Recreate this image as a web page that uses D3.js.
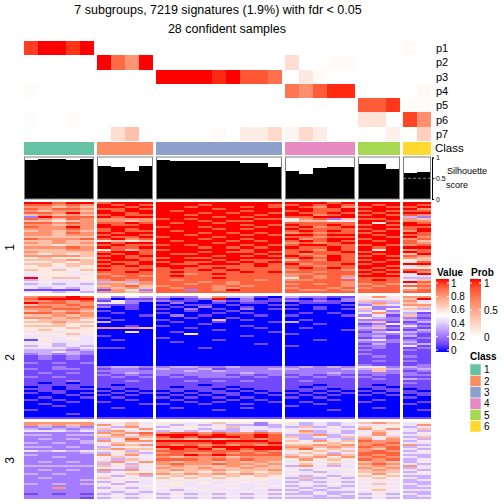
<!DOCTYPE html>
<html><head><meta charset="utf-8">
<script src="https://cdn.jsdelivr.net/npm/d3@7/dist/d3.min.js"></script>
<style>body{margin:0;background:#fff;}svg text{font-family:"Liberation Sans",Arial,Helvetica,sans-serif;}</style>
</head><body><div id="chart"></div>
<script>
// ---------- data ----------
const titleLines = ["7 subgroups, 7219 signatures (1.9%) with fdr < 0.05", "28 confident samples"];
const classes = [1,1,1,1,1, 2,2,2,2, 3,3,3,3,3,3,3,3,3, 4,4,4,4,4, 5,5,5, 6,6];
const classColors = ["#66C2A5","#FC8D62","#8DA0CB","#E78AC3","#A6D854","#FFD92F"];
const probNames = ["p1","p2","p3","p4","p5","p6","p7"];
const p1 = [0.9,1,1,0.93,1, 0,0,0,0, 0,0,0,0,0,0,0,0,0, 0,0,0,0,0, 0,0,0, 0.03,0];
const p2 = [0,0,0,0,0, 1,0.75,0.55,1, 0,0,0,0,0,0,0,0,0, 0.18,0,0,0.03,0.03, 0,0,0, 0,0];
const p3 = [0,0,0,0,0, 0,0,0,0, 1,1,1,1,0.95,1,0.82,0.82,0.72, 0,0.12,0.03,0,0, 0,0,0, 0,0];
const p4 = [0.02,0,0,0,0, 0,0,0,0, 0,0,0,0,0,0,0,0,0, 0.7,0.58,0.8,0.95,0.95, 0,0,0, 0,0.04];
const p5 = [0,0,0,0,0, 0,0,0,0, 0,0,0,0,0,0,0,0,0, 0,0,0,0,0, 0.8,0.8,0.92, 0.02,0.02];
const p6 = [0.02,0,0,0.02,0, 0,0,0,0, 0,0,0,0,0,0,0,0,0, 0,0,0,0,0, 0.15,0.15,0, 0.88,0.58];
const p7 = [0,0,0,0,0, 0,0.18,0.33,0, 0,0,0,0,0.03,0,0.1,0.1,0.2, 0.06,0.2,0.1,0,0, 0,0,0.08, 0,0.25];
const silhouette = [0.94,0.96,0.96,0.94,0.96, 0.8,0.77,0.67,0.8, 0.93,0.92,0.92,0.92,0.92,0.92,0.87,0.87,0.78, 0.68,0.6,0.75,0.78,0.78, 0.85,0.85,0.72, 0.63,0.65];
const sliceLabels = ["1","2","3"];
// each row: 28 digits (value = digit/9), groups separated by spaces
const slice1 = [
"99899 8999 999999999 99989 999 99","88787 9898 999899998 89898 989 98","77676 9989 998999898 98797 898 89",
"87887 8898 999989999 99889 999 97","76776 9899 989999899 89889 898 88","88797 9989 999898998 98898 989 99",
"67676 8988 998999989 99789 898 87","29888 9899 999989899 88999 999 32","87687 7777 898999988 57826 889 76",
"66567 7767 999898899 56654 998 77","88787 8898 989989999 88888 959 98","77677 9889 999999898 98898 898 99",
"87797 9999 899899989 89789 999 88","77787 8989 999989899 98888 898 89","67676 8988 989999999 89898 989 79",
"77687 9899 999898989 78788 899 98","77677 8998 998999898 99899 989 88","66666 9889 899989999 88788 998 97",
"87778 8978 999899899 97899 899 78","66766 5656 989998989 89898 989 86","76767 9899 999989999 78789 999 87",
"66566 8988 898999898 89988 898 78","77787 9889 999898989 98898 989 99","66677 5868 899999899 88798 959 78",
"76666 8998 999898898 89889 899 98","65656 9898 988999989 87888 989 69","77776 8989 999989898 98798 898 87",
"56555 9988 898899999 89898 999 76","66676 8998 999989888 68798 898 56","55656 9889 898898989 88888 989 58",
"66566 8989 988999898 97889 899 99","56565 9898 999888898 88788 998 56","55455 8888 898898888 89898 989 45",
"65656 9889 888989888 78887 898 88","55545 8898 898888989 88788 989 97","45554 7888 887898888 77888 898 59",
"45545 8787 898888888 78787 999 44","95665 8888 888898888 58783 888 33","34445 7878 878888878 77888 898 56",
"45444 3637 888787888 88887 888 98","34343 7767 887887888 78787 787 47","44444 6786 788878788 88887 878 88",
"43434 7676 878877888 78878 788 57","11114 1752 882879888 87787 888 78","44343 7767 888888888 88888 888 88"];
const slice2 = [
"78898 5243 322573310 32211 575 77","89999 2011 101290201 10102 454 69","77878 1522 211021211 21212 636 74",
"98877 4420 020010110 01110 373 65","67787 1110 101101001 10001 264 77","88778 2010 010200100 00100 422 56",
"77887 0010 102010201 10101 625 63","67676 1000 001001000 00000 352 45","88787 0100 100010100 01010 473 31",
"66767 0001 020100010 10001 241 62","77676 1000 001001000 00000 532 21","56665 0100 100060100 01000 222 32",
"66766 3000 010010001 30000 361 13","55655 0000 000100000 00100 125 21","66656 0010 100000100 00000 231 42",
"55565 7776 001000010 01000 362 21","56555 0000 000010000 00001 221 13","45455 0040 010000001 00000 134 32",
"55565 0000 005000000 10000 222 21","44544 1000 000000100 00000 231 31","45454 0000 100000000 00000 121 12",
"15454 0100 000010000 00100 342 21","44444 0000 010000000 00000 222 31","45344 0000 000000010 00000 131 23",
"34343 0000 000000000 10000 221 41","44434 1100 000100000 00000 121 12","33323 0000 000000000 00000 211 21",
"33432 0000 000000000 00000 111 11","23232 0000 000000000 00000 211 11","12121 0000 000000000 00000 121 21",
"12121 0000 000000000 00000 111 11","11111 0000 000000000 00000 121 21","21212 0000 000000000 00000 111 11",
"11111 0000 000000000 00000 211 12",
"11211 2332 233223222 23232 442 32","21221 1221 322312223 32223 363 23","11111 2222 223232222 22222 262 12",
"12121 1232 222222322 22232 222 21","11111 2121 212221212 12121 121 22","21211 1212 121222121 21212 211 11",
"11111 1111 111111111 11111 121 32","11121 1121 112121211 12111 111 11","10101 1111 111111111 11111 111 21",
"11111 1011 111011111 11011 101 11","01010 1111 101110111 10111 110 11","11011 0101 111101011 11101 011 01",
"01100 1010 010110101 01010 101 10","10101 0101 101011010 10101 010 11","00010 1010 010101001 01010 101 01",
"01001 0100 101010100 10100 000 10","10100 0010 010001010 00010 010 00","00010 1000 001010001 01000 100 01",
"01000 0001 100100100 00100 000 10","00100 0000 000000000 10000 000 00","00000 0100 010000100 00000 010 00",
"10000 0000 000010000 00010 000 01","00000 0000 000000000 00000 000 00","00010 0000 000000000 00000 000 00",
"00000 0000 000000000 00000 000 00","11111 1111 111111111 11111 111 11"];
const slice3 = [
"77777 4564 554565525 53434 676 45","76767 7565 434343323 43434 445 47","23232 4374 355456443 36353 655 34",
"32323 6557 545343444 44444 757 46","44434 3744 343433434 57353 464 43","22222 7678 788787787 46343 575 35",
"33233 5747 999898898 33734 474 44","22222 6666 898999898 63536 656 36","23232 3485 776767878 43343 747 43",
"22223 7577 999999998 65756 877 35","32323 4654 888898889 55565 778 44","22222 5767 878787878 66767 787 73",
"33232 3454 999899999 77676 878 34","22222 6766 798979899 68564 768 43","43434 4535 888888787 55656 787 35",
"22223 3563 787787878 46534 888 44","32222 7474 889898888 65676 878 33","22322 5645 767776777 76757 787 43",
"22222 4364 888787877 57565 878 34","23232 6757 767767676 45454 676 35","22222 3535 787787767 56565 787 43",
"33333 6464 676667676 37434 676 74","22222 4535 766766766 45454 767 34","23232 7374 676676667 53545 676 43",
"22222 3555 656565656 44344 666 35","32322 5467 767676766 54545 575 44","22222 4353 565656565 43434 656 33",
"23222 6545 656565555 36353 565 43","22223 4454 545455454 43444 454 34","22222 3534 454544544 34343 545 33",
"32323 5354 554545454 45454 464 43","22222 4545 454454445 34343 545 34","22722 3434 545445454 43434 454 33",
"22222 5454 434544443 34344 565 44","22222 4343 454454545 43433 454 33","12121 3434 343434343 33434 343 43",
"22222 4545 454545454 44343 454 34","22221 3434 343434343 33333 343 33"];
const valueTicks = [1,0.8,0.6,0.4,0.2,0];
const probTicks = [1,0.5,0];
const silTicks = [1,0.5,0];

// ---------- layout ----------
const W = 504, H = 504;
const svg = d3.select("#chart").append("svg").attr("width",W).attr("height",H);
const groupRanges = [[24,94],[97,153],[156,282],[285,355],[358,400],[403,431]];
const idx = d3.range(classes.length);
const groupIdx = [1,2,3,4,5,6].map(g => idx.filter(i => classes[i]===g));
const xScales = groupIdx.map((ids,k) => d3.scaleBand().domain(ids).range(groupRanges[k]));
const xOf = i => xScales[classes[i]-1](i);
const bw = i => xScales[classes[i]-1].bandwidth();

const valColor = d3.scaleLinear().domain([0,0.5,1]).range(["#0000FF","#FFFFFF","#FF0000"]).interpolate(d3.interpolateLab);
const probColor = d3.scaleLinear().domain([0,1]).range(["#FFFFFF","#FF0000"]).interpolate(d3.interpolateLab);

// title
svg.append("text").attr("x",218).attr("y",14).attr("text-anchor","middle").attr("font-size",12.5).text(titleLines[0]);
svg.append("text").attr("x",227).attr("y",33).attr("text-anchor","middle").attr("font-size",12.5).text(titleLines[1]);

// prob rows
const probs = [p1,p2,p3,p4,p5,p6,p7];
const yProb = d3.scaleBand().domain(probNames).range([41,141]);
probs.forEach((arr,r) => {
  svg.append("g").selectAll("rect").data(arr).join("rect")
    .attr("x",(d,i)=>xOf(i)).attr("width",(d,i)=>bw(i)+0.3)
    .attr("y",yProb(probNames[r])).attr("height",yProb.bandwidth()+0.3)
    .attr("fill",d=>probColor(d)).attr("shape-rendering","crispEdges");
  svg.append("text").attr("x",436).attr("y",yProb(probNames[r])+yProb.bandwidth()/2+4)
    .attr("font-size",11).text(probNames[r]);
});
// class bar
svg.append("g").selectAll("rect").data(classes).join("rect")
  .attr("x",(d,i)=>xOf(i)).attr("width",(d,i)=>bw(i)+0.3)
  .attr("y",142).attr("height",13).attr("fill",d=>classColors[d-1]).attr("shape-rendering","crispEdges");
svg.append("text").attr("x",435).attr("y",152).attr("font-size",11.5).text("Class");

// silhouette
const ySil = d3.scaleLinear().domain([0,1]).range([199,157.5]);
svg.append("g").selectAll("rect").data(silhouette).join("rect")
  .attr("x",(d,i)=>xOf(i)).attr("width",(d,i)=>bw(i)+0.3)
  .attr("y",d=>ySil(d)).attr("height",d=>ySil(0)-ySil(d)).attr("fill","#000").attr("shape-rendering","crispEdges");
groupRanges.forEach(r => {
  svg.append("rect").attr("x",r[0]+0.5).attr("y",157).attr("width",r[1]-r[0]-1).attr("height",42)
    .attr("fill","none").attr("stroke","#808080").attr("stroke-width",1);
});
svg.append("line").attr("x1",403).attr("x2",438).attr("y1",ySil(0.5)).attr("y2",ySil(0.5))
  .attr("stroke","#888").attr("stroke-dasharray","3,2");
const silAxis = svg.append("g").attr("transform","translate(432,0)")
  .call(d3.axisRight(ySil).tickValues(silTicks).tickSize(2).tickFormat(d3.format("")));
silAxis.selectAll("text").attr("font-size",7).attr("x",4).attr("font-family","Liberation Sans, Arial, sans-serif");
silAxis.select(".domain").attr("stroke","#000");
svg.append("text").attr("x",447).attr("y",174).attr("font-size",9).text("Silhouette");
svg.append("text").attr("x",446).attr("y",188).attr("font-size",9).text("score");

// heatmap slices
const slices = [slice1,slice2,slice3];
const sliceRanges = [[202,293],[296,419],[422,499]];
slices.forEach((rows,s) => {
  const parsed = rows.map(r => r.replace(/ /g,"").split("").map(c => +c/9));
  const yS = d3.scaleBand().domain(d3.range(parsed.length)).range(sliceRanges[s]);
  const g = svg.append("g");
  parsed.forEach((row,ri) => {
    g.append("g").selectAll("rect").data(row).join("rect")
      .attr("x",(d,i)=>xOf(i)).attr("width",(d,i)=>bw(i)+0.3)
      .attr("y",yS(ri)).attr("height",yS.bandwidth()+0.3)
      .attr("fill",d=>valColor(d)).attr("shape-rendering","crispEdges");
  });
  const cy = (sliceRanges[s][0]+sliceRanges[s][1])/2;
  svg.append("text").attr("transform",`translate(14,${cy}) rotate(-90)`).attr("text-anchor","middle")
    .attr("font-size",12).text(sliceLabels[s]);
});

// legends
const defs = svg.append("defs");
const gradV = defs.append("linearGradient").attr("id","gv").attr("x1",0).attr("x2",0).attr("y1",1).attr("y2",0);
d3.range(0,1.01,0.1).forEach(t => gradV.append("stop").attr("offset",t).attr("stop-color",valColor(t)));
const gradP = defs.append("linearGradient").attr("id","gp").attr("x1",0).attr("x2",0).attr("y1",1).attr("y2",0);
d3.range(0,1.01,0.1).forEach(t => gradP.append("stop").attr("offset",t).attr("stop-color",probColor(t)));

svg.append("text").attr("x",437).attr("y",276).attr("font-size",10).attr("font-weight","bold").text("Value");
svg.append("rect").attr("x",436).attr("y",279).attr("width",13).attr("height",73).attr("fill","url(#gv)");
const yVal = d3.scaleLinear().domain([0,1]).range([350,283]);
valueTicks.forEach(v => {
  svg.append("line").attr("x1",436).attr("x2",438).attr("y1",yVal(v)).attr("y2",yVal(v)).attr("stroke","#fff");
  svg.append("line").attr("x1",447).attr("x2",449).attr("y1",yVal(v)).attr("y2",yVal(v)).attr("stroke","#fff");
  svg.append("text").attr("x",451).attr("y",yVal(v)+3.5).attr("font-size",10).text(d3.format("")(v));
});
svg.append("text").attr("x",471).attr("y",276).attr("font-size",10).attr("font-weight","bold").text("Prob");
svg.append("rect").attr("x",470).attr("y",279).attr("width",11).attr("height",58).attr("fill","url(#gp)");
const yPr = d3.scaleLinear().domain([0,1]).range([337,283]);
probTicks.forEach(v => {
  svg.append("line").attr("x1",470).attr("x2",472).attr("y1",yPr(v)).attr("y2",yPr(v)).attr("stroke","#fff");
  svg.append("line").attr("x1",479).attr("x2",481).attr("y1",yPr(v)).attr("y2",yPr(v)).attr("stroke","#fff");
  svg.append("text").attr("x",484).attr("y",yPr(v)+3.5).attr("font-size",10).text(d3.format("")(v));
});
svg.append("text").attr("x",470).attr("y",360).attr("font-size",10).attr("font-weight","bold").text("Class");
const yCl = d3.scaleBand().domain([1,2,3,4,5,6]).range([364,432]);
[1,2,3,4,5,6].forEach(c => {
  svg.append("rect").attr("x",470).attr("y",yCl(c)).attr("width",11).attr("height",yCl.bandwidth())
    .attr("fill",classColors[c-1]).attr("stroke","#fff").attr("stroke-width",0.5);
  svg.append("text").attr("x",484).attr("y",yCl(c)+yCl.bandwidth()/2+3.5).attr("font-size",10).text(c);
});
</script></body></html>
